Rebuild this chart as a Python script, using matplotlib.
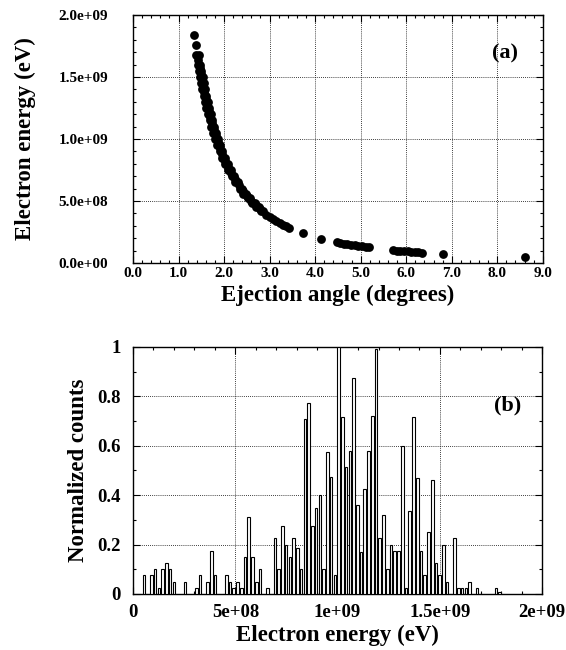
from __future__ import annotations

import matplotlib
import numpy as np

matplotlib.use("Agg")
import matplotlib.pyplot as plt
from matplotlib.ticker import MultipleLocator

# (a) ejection angle vs electron energy
top_angle = [1.34, 1.38]
top_energy = [1.84e9, 1.76e9]

# dense part of the curve: two edges of the band plus its middle
band_energy = [1.68e9, 1.60e9, 1.55e9, 1.50e9, 1.45e9, 1.40e9, 1.35e9, 1.30e9, 1.25e9,
               1.20e9, 1.15e9, 1.10e9, 1.05e9, 1.00e9, 0.95e9, 0.90e9, 0.85e9, 0.80e9,
               0.75e9, 0.70e9, 0.65e9, 0.60e9, 0.56e9, 0.52e9, 0.48e9, 0.45e9, 0.42e9]
band_angle_inner = [1.390, 1.421, 1.444, 1.469, 1.495, 1.521, 1.550, 1.580, 1.612,
                    1.646, 1.682, 1.720, 1.762, 1.806, 1.853, 1.905, 1.961, 2.022,
                    2.090, 2.164, 2.247, 2.340, 2.423, 2.516, 2.620, 2.707, 2.803]
band_angle_outer = [1.450, 1.481, 1.504, 1.529, 1.555, 1.581, 1.610, 1.640, 1.672,
                    1.706, 1.742, 1.780, 1.822, 1.866, 1.913, 1.965, 2.021, 2.082,
                    2.150, 2.224, 2.307, 2.400, 2.483, 2.576, 2.680, 2.767, 2.863]
mid_energy = [1.64e9, 1.575e9, 1.525e9, 1.475e9, 1.425e9, 1.375e9, 1.325e9, 1.275e9,
              1.225e9, 1.175e9, 1.125e9, 1.075e9, 1.025e9, 0.975e9, 0.925e9, 0.875e9,
              0.825e9, 0.775e9, 0.725e9, 0.675e9, 0.625e9, 0.58e9, 0.54e9, 0.50e9,
              0.465e9, 0.435e9]
mid_angle = [1.434, 1.463, 1.487, 1.512, 1.538, 1.566, 1.595, 1.626,
             1.659, 1.694, 1.731, 1.771, 1.813, 1.859, 1.909, 1.963,
             2.021, 2.085, 2.156, 2.234, 2.322, 2.411, 2.498, 2.596,
             2.692, 2.783]

tail_angle = [2.93, 3.00, 3.07, 3.15, 3.22, 3.30, 3.37, 3.43,
              3.74, 4.13,
              4.47, 4.55, 4.63, 4.71, 4.79, 4.87, 4.95, 5.03, 5.11, 5.19,
              5.71, 5.79, 5.87, 5.95, 6.03, 6.11, 6.19, 6.27, 6.34,
              6.80, 8.62]
tail_energy = [0.39e9, 0.37e9, 0.355e9, 0.34e9, 0.325e9, 0.31e9, 0.295e9, 0.285e9,
               0.24e9, 0.195e9,
               0.168e9, 0.163e9, 0.157e9, 0.152e9, 0.147e9, 0.142e9, 0.138e9, 0.133e9,
               0.129e9, 0.125e9,
               0.103e9, 0.100e9, 0.098e9, 0.095e9, 0.093e9, 0.090e9, 0.088e9, 0.086e9,
               0.084e9,
               0.073e9, 0.045e9]

# (b) normalized energy histogram: 100 bins between the min and max energy
energy_min = 4.4e7
energy_max = 1.874e9
hist_counts = np.zeros(100)
hist_nonzero = {
    0: 0.075, 2: 0.075, 3: 0.1, 4: 0.025, 5: 0.1, 6: 0.125, 7: 0.1, 8: 0.05,
    11: 0.05, 14: 0.025, 15: 0.075, 17: 0.05, 18: 0.175, 19: 0.075,
    22: 0.075, 23: 0.05, 24: 0.025, 25: 0.05, 26: 0.025, 27: 0.15, 28: 0.31,
    29: 0.15, 30: 0.05, 31: 0.1, 33: 0.025, 35: 0.225, 36: 0.1, 37: 0.275,
    38: 0.2, 39: 0.15, 40: 0.225, 41: 0.185, 42: 0.1, 43: 0.71, 44: 0.775,
    45: 0.275, 46: 0.35, 47: 0.4, 48: 0.1, 49: 0.575, 50: 0.475, 51: 0.075,
    52: 1.0, 53: 0.715, 54: 0.515, 55: 0.58, 56: 0.875, 57: 0.36, 58: 0.17,
    59: 0.425, 60: 0.58, 61: 0.72, 62: 0.99, 63: 0.225, 64: 0.32, 65: 0.1,
    66: 0.2, 67: 0.175, 68: 0.175, 69: 0.6, 70: 0.025, 71: 0.335, 72: 0.715,
    73: 0.47, 74: 0.175, 75: 0.075, 76: 0.25, 77: 0.46, 78: 0.125, 79: 0.075,
    80: 0.2, 81: 0.05, 83: 0.225, 84: 0.025, 85: 0.025, 86: 0.025, 87: 0.05,
    89: 0.025, 94: 0.025, 95: 0.01,
}
for index, value in hist_nonzero.items():
    hist_counts[index] = value

angle_ticks = np.arange(0, 10, 1.0)
energy_ticks_a = [0, 5e8, 1e9, 1.5e9, 2e9]
energy_labels_a = ["0.0e+00", "5.0e+08", "1.0e+09", "1.5e+09", "2.0e+09"]
energy_ticks_b = [0, 5e8, 1e9, 1.5e9, 2e9]
energy_labels_b = ["0", "5e+08", "1e+09", "1.5e+09", "2e+09"]
count_ticks = [0, 0.2, 0.4, 0.6, 0.8, 1.0]
count_labels = ["0", "0.2", "0.4", "0.6", "0.8", "1"]

GRID = dict(color="black", linestyle=(0, (1, 1.5)), linewidth=0.6)


def style_axis(ax, tick_size: float, xpad: float, ypad: float) -> None:
    ax.tick_params(which="both", direction="in", top=True, right=True,
                   labelsize=tick_size, width=0.8)
    ax.tick_params(which="major", length=5)
    ax.tick_params(which="minor", length=2.5)
    ax.tick_params(axis="x", which="major", pad=xpad)
    ax.tick_params(axis="y", which="major", pad=ypad)
    ax.grid(True, which="major", **GRID)
    ax.set_axisbelow(True)
    for spine in ax.spines.values():
        spine.set_linewidth(1.0)
    for label in ax.get_xticklabels() + ax.get_yticklabels():
        label.set_fontweight("bold")


def plot_scatter(ax) -> None:
    angles = top_angle + band_angle_inner + band_angle_outer + mid_angle + tail_angle
    energies = top_energy + band_energy + band_energy + mid_energy + tail_energy
    ax.scatter(angles, energies, s=40, color="black", linewidths=0, zorder=3)
    ax.set_xlim(0, 9)
    ax.set_ylim(0, 2e9)
    ax.set_xticks(angle_ticks, labels=[f"{a:.1f}" for a in angle_ticks])
    ax.set_yticks(energy_ticks_a, labels=energy_labels_a)
    ax.xaxis.set_minor_locator(MultipleLocator(0.2))
    ax.yaxis.set_minor_locator(MultipleLocator(1e8))
    style_axis(ax, 11, xpad=3, ypad=18)
    ax.set_xlabel("Ejection angle (degrees)", fontsize=16.5, fontweight="bold", labelpad=3)
    ax.set_ylabel("Electron energy (eV)", fontsize=16.5, fontweight="bold", labelpad=16)
    ax.text(8.17, 1.69e9, "(a)", fontsize=16, fontweight="bold", ha="center", va="center")


def plot_histogram(ax) -> None:
    edges = np.linspace(energy_min, energy_max, len(hist_counts) + 1)
    centers = 0.5 * (edges[:-1] + edges[1:])
    bin_width = edges[1] - edges[0]
    mask = hist_counts > 0
    ax.bar(centers[mask], hist_counts[mask], width=0.7 * bin_width,
           facecolor="white", edgecolor="black", linewidth=0.8, zorder=3)
    ax.set_xlim(0, 2e9)
    ax.set_ylim(0, 1)
    ax.set_xticks(energy_ticks_b, labels=energy_labels_b)
    ax.set_yticks(count_ticks, labels=count_labels)
    ax.xaxis.set_minor_locator(MultipleLocator(1e8))
    ax.yaxis.set_minor_locator(MultipleLocator(0.1))
    style_axis(ax, 13.5, xpad=7, ypad=9)
    ax.set_xlabel("Electron energy (eV)", fontsize=16.5, fontweight="bold", labelpad=3)
    ax.set_ylabel("Normalized counts", fontsize=16.5, fontweight="bold", labelpad=6)
    ax.text(1.83e9, 0.765, "(b)", fontsize=16, fontweight="bold", ha="center", va="center")


def main() -> None:
    plt.rcParams["font.family"] = ["Liberation Serif", "DejaVu Serif"]
    plt.rcParams["font.weight"] = "bold"
    fig = plt.figure(figsize=(5.66, 6.5), dpi=100)
    ax_a = fig.add_axes([0.235, 0.5954, 0.724, 0.3816])
    ax_b = fig.add_axes([0.235, 0.0862, 0.723, 0.3800])
    plot_scatter(ax_a)
    plot_histogram(ax_b)
    fig.savefig("out.png", dpi=100)
    plt.close(fig)


if __name__ == "__main__":
    main()
